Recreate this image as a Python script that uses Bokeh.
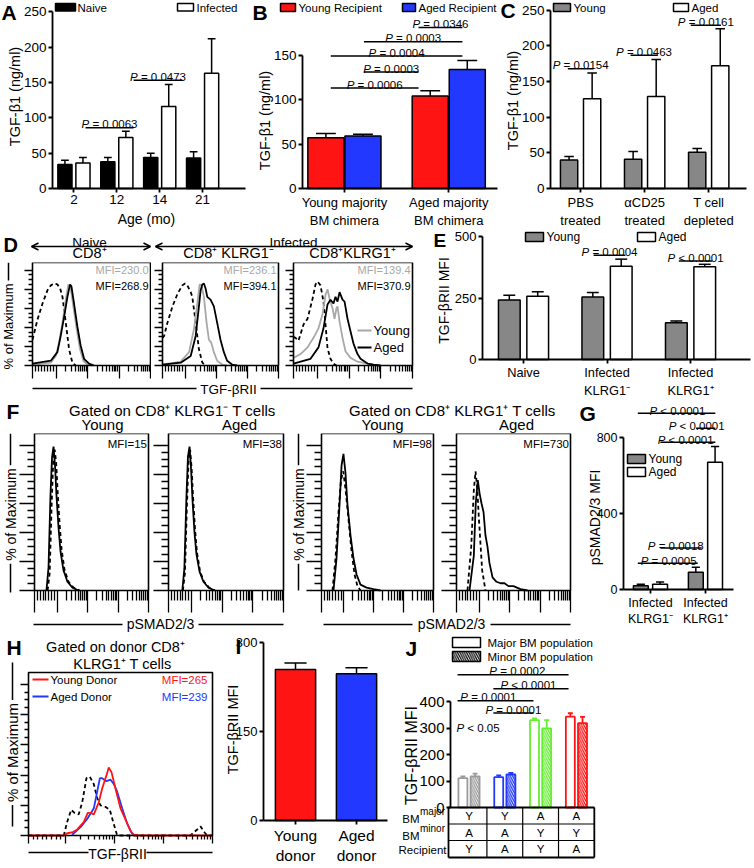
import math
from bokeh.plotting import figure
from bokeh.layouts import row, column
from bokeh.models import Range1d, FixedTicker, Label, Arrow, OpenHead, BoxAnnotation
from bokeh.embed import file_html
from bokeh.resources import INLINE

S = 1.0
FONT = "Liberation Sans"
GREY = "#878787"
LGREY = "#a8a8a8"
RED = "#ff1414"
BLUE = "#2238ff"

# ------------------------------------------------------------------ data
A_ages = ["2", "12", "14", "21"]
A_naive = [34, 38, 44, 43]
A_naive_err = [6, 6, 6, 9]
A_infected = [36, 72, 116, 163]
A_infected_err = [8, 9, 31, 49]
A_pvals = [(0.77, 1.89, 86, "= 0.0063"), (1.89, 3.03, 153, "= 0.0473")]

B_groups = ["Young majority\nBM chimera", "Aged majority\nBM chimera"]
B_young_recipient = [57, 104]
B_young_recipient_err = [5, 6]
B_aged_recipient = [59, 134]
B_aged_recipient_err = [2, 10]
B_pvals = [(0.29, 1.19, 113, "= 0.0006"), (0.63, 1.19, 131, "= 0.0003"),
           (0.29, 1.64, 149, "= 0.0004"), (0.63, 1.64, 165, "= 0.0003"),
           (1.19, 1.64, 181, "= 0.0346")]

C_groups = ["PBS\ntreated", "\u03b1CD25\ntreated", "T cell\ndepleted"]
C_young = [40, 41, 51]
C_young_err = [5, 11, 5]
C_aged = [126, 129, 172]
C_aged_err = [36, 52, 52]
C_pvals = [(0.30, 0.70, 168, "= 0.0154"), (1.28, 1.70, 187, "= 0.0463"),
           (2.22, 2.69, 229, "= 0.0161")]

D_mfi_young = ["MFI=230.0", "MFI=236.1", "MFI=139.4"]
D_mfi_aged = ["MFI=268.9", "MFI=394.1", "MFI=370.9"]
D1_ctrl_x = [0, 1.4, 4.2, 8.5, 12.7, 15.5, 18.3, 21.1, 23.4, 25.4, 28.2, 31.0, 33.8, 36.6]
D1_ctrl_y = [27, 34, 48, 65, 79, 84, 86, 85, 81, 72, 45, 17, 3, 0]
D1_young_x = [0, 15.5, 19.7, 22.5, 25.4, 28.2, 30.4, 32.4, 34.6, 37.5, 40.3, 43.1, 46.5, 50.7]
D1_young_y = [1, 3, 10, 24, 45, 69, 85, 81, 62, 38, 17, 5, 1, 0]
D1_aged_x = [0, 15.5, 21.1, 23.9, 26.8, 29.6, 31.8, 33.0, 35.2, 38.0, 40.8, 43.7, 47.9, 52.1]
D1_aged_y = [2, 5, 14, 31, 51, 72, 85, 83, 65, 41, 21, 7, 2, 0]
D2_ctrl_x = [0, 1.4, 4.3, 8.6, 12.9, 17.1, 19.4, 21.4, 24.3, 25.7, 28.6, 31.4, 34.3, 37.1]
D2_ctrl_y = [29, 31, 45, 62, 75, 84, 86, 84, 77, 72, 45, 17, 3, 0]
D2_young_x = [0, 15.7, 22.9, 27.1, 30.0, 32.0, 33.7, 35.7, 38.0, 40.0, 42.0, 44.3, 47.1, 51.4, 55.7]
D2_young_y = [1, 4, 14, 38, 65, 85, 84, 72, 45, 27, 24, 14, 5, 1, 0]
D2_aged_x = [0, 15.7, 24.3, 28.6, 31.4, 32.9, 34.3, 35.7, 37.1, 38.6, 41.4, 44.3, 47.1, 50.0,
             52.9, 55.7, 60.0, 64.3]
D2_aged_y = [1, 3, 10, 31, 62, 79, 85, 86, 81, 72, 69, 62, 45, 27, 14, 5, 1, 0]
D3_ctrl_x = [0, 1.7, 4.2, 8.4, 11.8, 16.0, 18.5, 20.2, 22.7, 25.2, 26.9, 28.6, 31.1, 33.6, 36.0]
D3_ctrl_y = [30, 29, 26, 43, 49, 70, 85, 88, 84, 67, 43, 18, 7, 2, 0]
D3_young_x = [0, 5.9, 11.8, 16.8, 21.0, 24.4, 26.9, 28.6, 30.3, 32.8, 34.5, 36.1, 37.0, 38.7,
              41.2, 43.7, 47.9, 53.8, 62.2, 67.2]
D3_young_y = [8, 12, 19, 29, 39, 54, 74, 80, 70, 60, 49, 60, 62, 46, 29, 15, 8, 4, 2, 1]
D3_aged_x = [0, 14.3, 21.0, 25.2, 28.6, 31.1, 33.6, 35.3, 37.0, 38.7, 41.2, 42.9, 45.4, 47.9,
             50.4, 53.8, 56.3, 62.2, 67.2, 73.1]
D3_aged_y = [2, 7, 19, 39, 64, 69, 65, 72, 67, 77, 69, 67, 49, 36, 23, 12, 7, 2, 1, 0]

E_groups = ["Naive", "Infected\nKLRG1\u207b", "Infected\nKLRG1\u207a"]
E_young = [242, 255, 150]
E_young_err = [20, 18, 7]
E_aged = [258, 380, 378]
E_aged_err = [18, 29, 10]
E_pvals = [(1.34, 1.72, 425, "= 0.0004"), (2.36, 2.76, 401, "< 0.0001")]

F_mfi = ["MFI=15", "MFI=38", "MFI=98", "MFI=730"]
F1_ctrl_x = [11.5, 13.3, 15.0, 16.4, 17.7, 19.0, 20.3, 22.1, 23.8, 26.4, 29.9, 34.3, 39.6]
F1_ctrl_y = [0, 12, 58, 88, 97, 88, 68, 45, 28, 14, 6, 2, 0]
F1_stain_x = [10.5, 12.3, 14.0, 15.4, 16.7, 18.0, 19.3, 21.1, 22.8, 25.4, 28.9, 33.3, 38.6]
F1_stain_y = [0, 16, 65, 92, 99, 86, 65, 43, 27, 14, 6, 2, 0]
F2_ctrl_x = [12.5, 14.3, 16.0, 17.4, 18.8, 20.1, 21.4, 23.1, 24.8, 27.5, 30.9, 35.3, 40.5]
F2_ctrl_y = [0, 12, 58, 88, 97, 84, 64, 42, 26, 13, 6, 2, 0]
F2_stain_x = [12.0, 13.8, 15.5, 16.9, 18.3, 19.6, 20.9, 22.6, 24.3, 27.0, 30.4, 34.8, 40.0]
F2_stain_y = [0, 15, 62, 92, 99, 84, 62, 40, 25, 13, 6, 2, 0]
F3_ctrl_x = [9.8, 12.5, 15.2, 17.4, 19.4, 21.4, 24.1, 26.8, 29.5, 32.1, 34.8]
F3_ctrl_y = [0, 22, 54, 76, 82, 70, 49, 27, 11, 3, 0]
F3_stain_x = [10.7, 13.4, 16.1, 17.9, 19.6, 21.4, 23.2, 25.9, 28.6, 31.3, 34.8, 40.2, 46.4, 52.7]
F3_stain_y = [0, 22, 59, 86, 94, 81, 59, 38, 22, 11, 4, 2, 1, 0]
F4_ctrl_x = [9.6, 12.9, 15.2, 16.7, 18.2, 19.6, 22.5, 25.4]
F4_ctrl_y = [0, 30, 69, 82, 70, 50, 14, 0]
F4_stain_x = [11.4, 15.2, 16.9, 18.7, 20.2, 21.9, 23.7, 25.4, 27.2, 28.9, 31.6, 35.1, 38.6,
              42.1, 45.6, 50.0, 56.1, 62.3]
F4_stain_y = [0, 24, 60, 76, 67, 60, 54, 38, 30, 19, 9, 6, 5, 5, 3, 3, 1, 0]

G_groups = ["Infected\nKLRG1\u207b", "Infected\nKLRG1\u207a"]
G_young = [20, 91]
G_young_err = [8, 26]
G_aged = [28, 670]
G_aged_err = [12, 82]
G_pvals = [(0.27, 1.68, 928, "< 0.0001", 0.99), (1.33, 1.68, 849, "< 0.0001", 1.34),
           (0.68, 1.68, 775, "< 0.0001", 1.14), (0.68, 1.43, 219, "= 0.0018", 0.96),
           (0.27, 1.36, 138, "= 0.0005", 0.83)]

H_mfi = ["MFI=265", "MFI=239"]
H_ctrl_x = [0, 19.2, 21.0, 23.2, 25.0, 27.3, 29.2, 31.5, 33.3, 35.5, 37.3, 39.1, 41.8, 44.2,
            46.0, 48.2, 88.0, 91.7, 93.5, 95.7, 97.1, 100]
H_ctrl_y = [0, 0, 9, 17, 15, 14, 22, 38, 39, 34, 25, 20, 19, 17, 9, 0, 0, 4, 6, 2, 0, 0]
H_young_x = [0, 19.2, 21.0, 23.7, 26.5, 30.1, 32.2, 33.7, 35.5, 38.2, 40.0, 42.4, 43.6, 45.1,
             47.3, 50.0, 53.3, 55.4, 57.2, 60.9, 100]
H_young_y = [0, 0, 1.5, 2, 4, 9, 15, 15, 14, 22, 31, 40, 45, 42, 31, 18, 9, 3, 0.5, 0, 0]
H_aged_x = [23.7, 28.3, 31.9, 35.5, 38.8, 40.0, 42.4, 44.6, 46.4, 48.2, 50.9, 53.6, 56.4, 58.2]
H_aged_y = [0.5, 5.5, 11, 18, 38, 38, 36, 37, 34, 29, 18, 8, 1, 0]

I_groups = ["Young\ndonor", "Aged\ndonor"]
I_values = [254, 247]
I_err = [11, 10]

J_major = [111, 115, 331, 344]
J_major_err = [7, 7, 7, 13]
J_minor = [118, 125, 300, 320]
J_minor_err = [10, 6, 31, 23]
J_colors = ["#9a9a9a", "#2238ff", "#66ee33", "#ff1414"]
J_bm_major = ["Y", "Y", "A", "A"]
J_bm_minor = ["A", "A", "Y", "Y"]
J_recipient = ["Y", "A", "Y", "A"]
J_pvals = [(0.18, 3.28, 503, "= 0.0002", 1.85), (1.18, 3.28, 450, "< 0.0001", 2.16),
           (0.18, 2.30, 404, "= 0.0001", 1.04), (1.18, 2.30, 358, "= 0.0001", 1.74)]

HIST_BOX = (0, 100, 0, 108)
HY_MAJOR = [0, 20, 40, 60, 80, 100]
HY_MINOR = [v for v in range(5, 100, 5) if v % 20]


def decade_ticks():
    major = [0, 20]
    minor = [2.5, 5, 7.5, 10, 12.5, 15, 17.5]
    w = 80 / 3
    for d in range(3):
        base = 20 + d * w
        for k in range(2, 10):
            minor.append(base + w * math.log10(k))
        major.append(base + w)
    return major, minor


HX_MAJOR, HX_MINOR = decade_ticks()

# ------------------------------------------------------------------ helpers
CW = {" ": .278, ".": .278, "=": .584, "<": .584, "P": .667, "%": .889, "o": .556, "f": .278,
      "M": .833, "a": .556, "x": .5, "i": .222, "m": .833, "u": .556}


def s(v):
    return int(round(v * S))


def fpx(v):
    return "%.1fpx" % (v * S)


def twidth(t, size):
    return sum(CW.get(c, .556) for c in t) * size


class Pan:
    """A figure whose frame fills its whole box; (plot, xr, yr) place the data area."""

    def __init__(self, box, plot=None, xr=None, yr=None, axes=True):
        x0, y0, x1, y1 = box
        if plot is None:
            plot = box
        fx0, fy0, fx1, fy1 = plot
        if xr is None:
            xr = (fx0, fx1)
        if yr is None:
            yr = (fy1, fy0)
        self.fx0, self.fy0, self.fx1, self.fy1 = plot
        self.xr, self.yr = xr, yr
        kw = dict(width=s(x1) - s(x0), height=s(y1) - s(y0),
                  x_range=Range1d(self.X(x0), self.X(x1)),
                  y_range=Range1d(self.Y(y1), self.Y(y0)),
                  min_border_left=0, min_border_right=0,
                  min_border_top=0, min_border_bottom=0,
                  output_backend="svg", toolbar_location=None, title=None)
        if not axes:
            kw.update(x_axis_type=None, y_axis_type=None)
        p = figure(**kw)
        p.outline_line_color = None
        p.background_fill_color = "white"
        p.border_fill_color = "white"
        if axes:
            p.grid.visible = False
        self.p = p

    def X(self, px):
        a, b = self.xr
        return a + (px - self.fx0) / (self.fx1 - self.fx0) * (b - a)

    def Y(self, py):
        a, b = self.yr
        return a + (self.fy1 - py) / (self.fy1 - self.fy0) * (b - a)

    def txt(self, px, py, t, size, align="center", color="black", style="normal",
            angle=0, base="middle"):
        self.p.add_layout(Label(x=self.X(px), y=self.Y(py), text=t, text_font=FONT,
                                text_font_size=fpx(size), text_align=align,
                                text_baseline=base, text_color=color,
                                text_font_style=style, angle=angle))

    def ylab(self, px, py, t, size=14.5):
        self.txt(px, py, t, size, angle=math.pi / 2)

    def lnd(self, x0, y0, x1, y1, w=1.5, color="black", heads=False):
        kw = dict(x_start=x0, y_start=y0, x_end=x1, y_end=y1, line_width=w * S,
                  line_color=color, start=None, end=None)
        if heads:
            kw["start"] = OpenHead(size=7, line_width=1.5 * S)
            kw["end"] = OpenHead(size=7, line_width=1.5 * S)
        self.p.add_layout(Arrow(**kw))

    def ln(self, px0, py0, px1, py1, w=1.5, color="black", heads=False):
        self.lnd(self.X(px0), self.Y(py0), self.X(px1), self.Y(py1), w, color, heads)

    def box(self, px0, py0, px1, py1, fill, line="black", hatch=None):
        kw = dict(left=self.X(px0), right=self.X(px1), top=self.Y(py0), bottom=self.Y(py1),
                  fill_color=fill, fill_alpha=1, line_color=line, line_width=1.5 * S,
                  line_alpha=1)
        if hatch:
            kw.update(hatch_pattern=hatch, hatch_color=line, hatch_scale=4.5,
                      hatch_weight=1.2)
        self.p.add_layout(BoxAnnotation(**kw))

    def letter(self, px, py, t, size=21):
        self.txt(px, py, t, size, align="left", style="bold")

    def maxlab(self, x, y0, y1, yc, size=14):
        t = "% of Maximum"
        half = twidth(t, size) / 2 + 3
        self.txt(x, yc, t, size, angle=math.pi / 2)
        if yc - half > y0:
            self.ln(x, y0, x, yc - half)
        if yc + half < y1:
            self.ln(x, yc + half, x, y1)


def ptext(p, x, y, rest, size=11.5, yoff=3.5, align="center"):
    wP = .667 * size * S
    wsp = .278 * size * S
    wR = twidth(rest, size) * S
    left = -(wP + wsp + wR) / 2 if align == "center" else 0
    common = dict(x=x, y=y, y_offset=yoff, text_align="left", text_baseline="alphabetic",
                  text_font=FONT, text_font_size=fpx(size), text_color="black")
    p.add_layout(Label(text="P", x_offset=left, text_font_style="italic", **common))
    p.add_layout(Label(text=rest, x_offset=left + wP + wsp, text_font_style="normal", **common))


def pvals(pan, items, size=11.5, yoff=3.5):
    p = pan.p
    p.segment(x0=[it[0] for it in items], y0=[it[2] for it in items],
              x1=[it[1] for it in items], y1=[it[2] for it in items],
              line_color="black", line_width=1.5 * S)
    for it in items:
        xc = it[4] if len(it) > 4 else (it[0] + it[1]) / 2
        ptext(p, xc, it[2], it[3], size, yoff)


def bars(p, xs, vals, errs, width, fill, line="black", hatch=None, lw=1.5):
    tops = [v + e for v, e in zip(vals, errs)]
    capw = width * 0.55
    p.segment(x0=xs, y0=vals, x1=xs, y1=tops, line_color=line, line_width=lw * S)
    p.segment(x0=[x - capw / 2 for x in xs], y0=tops, x1=[x + capw / 2 for x in xs], y1=tops,
              line_color=line, line_width=lw * S)
    kw = dict(x=xs, top=vals, width=width, bottom=0, fill_color=fill, line_color=line,
              line_width=lw * S)
    if hatch:
        kw.update(hatch_pattern=hatch, hatch_color=line, hatch_scale=4.5, hatch_weight=1.3)
    p.vbar(**kw)


def bar_axes(pan, yticks, ybounds, xticks, xlabels, tick=13.5, xtick=13,
             xticks_on=True, xbounds=None, xstand=2):
    p = pan.p
    xa, ya = p.xaxis[0], p.yaxis[0]
    ya.fixed_location = pan.xr[0]
    xa.fixed_location = pan.yr[0]
    ya.ticker = FixedTicker(ticks=yticks, minor_ticks=[])
    ya.bounds = ybounds
    xa.bounds = xbounds if xbounds is not None else pan.xr
    xa.ticker = FixedTicker(ticks=list(xticks) if xticks_on else [], minor_ticks=[])
    if xticks_on:
        xa.major_label_overrides = {float(x): l for x, l in zip(xticks, xlabels)}
    for ax in (xa, ya):
        ax.axis_line_color = "black"
        ax.axis_line_width = 1.8 * S
        ax.major_tick_line_color = "black"
        ax.major_tick_line_width = 1.8 * S
        ax.major_tick_in = 0
        ax.major_tick_out = 4
        ax.minor_tick_line_color = None
        ax.major_label_text_font = FONT
        ax.major_label_text_color = "black"
        ax.major_label_standoff = 2
    xa.major_label_standoff = xstand
    ya.major_label_text_font_size = fpx(tick)
    xa.major_label_text_font_size = fpx(xtick)


def hist_axes(pan, xt, yt, lw=1.3):
    p = pan.p
    l, r, b, t = HIST_BOX
    p.add_layout(BoxAnnotation(left=l, right=r, bottom=b, top=t, fill_color=None,
                               fill_alpha=0, line_color="black", line_alpha=1,
                               line_width=1.6 * S))
    xa, ya = p.xaxis[0], p.yaxis[0]
    xa.fixed_location = b
    ya.fixed_location = l
    xa.ticker = FixedTicker(ticks=HX_MAJOR, minor_ticks=HX_MINOR)
    ya.ticker = FixedTicker(ticks=HY_MAJOR, minor_ticks=HY_MINOR)
    for ax in (xa, ya):
        ax.axis_line_color = None
        ax.major_label_text_color = None
        ax.major_label_standoff = 0
        ax.major_tick_in = 0
        ax.minor_tick_in = 0
        ax.major_tick_line_color = "black"
        ax.minor_tick_line_color = "black"
        ax.major_tick_line_width = lw * S
        ax.minor_tick_line_width = lw * S
    xa.major_tick_out = s(xt[0])
    xa.minor_tick_out = s(xt[1])
    ya.major_tick_out = s(yt[0])
    ya.minor_tick_out = s(yt[1])


def curve(pan, xs, ys, color="black", dash="solid", w=1.8):
    pan.p.line(xs, ys, line_color=color, line_width=w * S, line_dash=dash)


DASH = "4 3"
WR = 752   # right edge of the whole layout
R1 = 229   # bottom of first row
R2 = 397   # bottom of second row
R3 = 632   # bottom of third row
R4 = 866   # bottom of last row

# ------------------------------------------------------------------ A
A = Pan((0, 0, 250, R1), (52, 0, 245, 188), (0, 4.5), (0, 266))
A_x = [0.5, 1.5, 2.5, 3.5]
bars(A.p, [x - 0.21 for x in A_x], A_naive, A_naive_err, 0.33, "black")
bars(A.p, [x + 0.21 for x in A_x], A_infected, A_infected_err, 0.33, "white")
bar_axes(A, [0, 50, 100, 150, 200, 250], (0, 250), A_x, A_ages, tick=13.5, xtick=13.5)
A.ylab(14, 96, "TGF-\u03b21 (ng/ml)")
pvals(A, A_pvals)
A.letter(1, 12, "A")
A.box(55, 3, 75, 10.5, "black")
A.txt(77, 7, "Naive", 11.5, align="left")
A.box(177, 3, 193, 10.5, "white")
A.txt(196, 7, "Infected", 11.5, align="left")
A.txt(146, 218, "Age (mo)", 14)

# ------------------------------------------------------------------ B
B = Pan((250, 0, 500, R1), (302, 0, 497, 188), (0, 2), (0, 211.5))
B_x = [0.43, 1.5]
bars(B.p, [x - 0.19 for x in B_x], B_young_recipient, B_young_recipient_err, 0.37, RED)
bars(B.p, [x + 0.19 for x in B_x], B_aged_recipient, B_aged_recipient_err, 0.37, BLUE)
bar_axes(B, [0, 50, 100, 150], (0, 150), B_x, B_groups)
B.ylab(264, 120, "TGF-\u03b21 (ng/ml)")
pvals(B, B_pvals)
B.letter(252, 12, "B")
B.box(280, 3, 295, 11, RED)
B.txt(298, 7, "Young Recipient", 11.5, align="left")
B.box(402, 3, 415, 11, BLUE)
B.txt(418, 7, "Aged Recipient", 11.5, align="left")

# ------------------------------------------------------------------ C
C = Pan((500, 0, WR, R1), (550, 0, 746, 188), (0.03, 3.09), (0, 263.6))
C_x = [0.5, 1.5, 2.5]
bars(C.p, [x - 0.18 for x in C_x], C_young, C_young_err, 0.27, GREY)
bars(C.p, [x + 0.18 for x in C_x], C_aged, C_aged_err, 0.27, "white")
bar_axes(C, [0, 50, 100, 150, 200, 250], (0, 250), C_x, C_groups)
C.ylab(512, 100, "TGF-\u03b21 (ng/ml)")
pvals(C, C_pvals)
C.letter(500, 10, "C")
C.box(553, 3, 570, 11, GREY)
C.txt(573, 7, "Young", 11.5, align="left")
C.box(673, 3, 688, 11, "white")
C.txt(691, 7, "Aged", 11.5, align="left")

# ------------------------------------------------------------------ D
Dh = Pan((0, R1, 420, 262), axes=False)
Dh.letter(3, 244, "D", 20)
Dh.txt(89, 242, "Naive", 13.5, base="alphabetic")
Dh.ln(31, 246, 150, 246, heads=True)
Dh.txt(293, 242, "Infected", 13.5, base="alphabetic")
Dh.ln(155, 246, 412, 246, heads=True)
Dh.txt(89, 252.5, "CD8\u207a", 14.5)
Dh.txt(228, 252.5, "CD8\u207a KLRG1\u207b", 14.5)
Dh.txt(352, 252.5, "CD8\u207aKLRG1\u207a", 14.5)

D1 = Pan((0, 262, 151, 380), (32, 262, 150, 365), (0, 100), (0, 108))
D2 = Pan((151, 262, 281, 380), (162, 262, 278, 365), (0, 100), (0, 108))
D3 = Pan((281, 262, 420, 380), (293, 262, 412, 365), (0, 100), (0, 108))
for pn in (D1, D2, D3):
    hist_axes(pn, (13, 6), (8, 4))
curve(D1, D1_ctrl_x, D1_ctrl_y, dash=DASH)
curve(D1, D1_young_x, D1_young_y, LGREY)
curve(D1, D1_aged_x, D1_aged_y)
curve(D2, D2_ctrl_x, D2_ctrl_y, dash=DASH)
curve(D2, D2_young_x, D2_young_y, LGREY)
curve(D2, D2_aged_x, D2_aged_y)
curve(D3, D3_ctrl_x, D3_ctrl_y, dash=DASH)
curve(D3, D3_young_x, D3_young_y, LGREY)
curve(D3, D3_aged_x, D3_aged_y)
for pn, ty, ta in zip((D1, D2, D3), D_mfi_young, D_mfi_aged):
    pn.txt(pn.fx1 - 2, 269, ty, 11, align="right", color=LGREY)
    pn.txt(pn.fx1 - 2, 285, ta, 11, align="right")
D1.maxlab(8, 262, 365, 326, 13)
D3.ln(357, 330, 371, 330, 2, LGREY)
D3.txt(373, 330, "Young", 13, align="left")
D3.ln(357, 347, 371, 347, 2)
D3.txt(373, 347, "Aged", 13, align="left")

Df = Pan((0, 380, 420, R2), axes=False)
Df.txt(228, 388.5, "TGF-\u03b2RII", 13.5)
Df.ln(32, 388, 196, 388)
Df.ln(260, 388, 412, 388)

# ------------------------------------------------------------------ E
E = Pan((420, R1, WR, R2), (482, 227, 750, 359), (0.009, 3.218), (0, 538))
E_x = [0.5, 1.5, 2.5]
bars(E.p, [x - 0.17 for x in E_x], E_young, E_young_err, 0.26, GREY)
bars(E.p, [x + 0.17 for x in E_x], E_aged, E_aged_err, 0.26, "white")
bar_axes(E, [0, 250, 500], (0, 500), E_x, E_groups, tick=13, xtick=12.8, xstand=1)
E.ylab(443, 300, "TGF-\u03b2RII MFI", 14)
pvals(E, E_pvals)
E.letter(433, 240, "E", 19)
E.box(525, 232, 543, 241, GREY)
E.txt(546, 236.5, "Young", 12, align="left")
E.box(637, 232, 655, 241, "white")
E.txt(658, 236.5, "Aged", 12, align="left")

# ------------------------------------------------------------------ F
Fh = Pan((0, R2, 578, 433), axes=False)
Fh.letter(6, 411, "F")
Fh.txt(172, 410, "Gated on CD8\u207a KLRG1\u207b T cells", 15)
Fh.txt(102, 424, "Young", 15)
Fh.txt(239, 424, "Aged", 15)
Fh.txt(452, 410, "Gated on CD8\u207a KLRG1\u207a T cells", 15)
Fh.txt(382, 424, "Young", 15)
Fh.txt(516, 424, "Aged", 15)

F1 = Pan((0, 433, 152, 613), (34, 433, 148, 590), (0, 100), (0, 108))
F2 = Pan((152, 433, 290, 613), (168, 433, 283, 590), (0, 100), (0, 108))
F3 = Pan((290, 433, 440, 613), (321, 433, 433, 590), (0, 100), (0, 108))
F4 = Pan((440, 433, 578, 613), (456, 433, 570, 590), (0, 100), (0, 108))
for pn in (F1, F2, F3, F4):
    hist_axes(pn, (22, 10), (15, 7))
curve(F1, F1_ctrl_x, F1_ctrl_y, dash=DASH)
curve(F1, F1_stain_x, F1_stain_y)
curve(F2, F2_ctrl_x, F2_ctrl_y, dash=DASH)
curve(F2, F2_stain_x, F2_stain_y)
curve(F3, F3_ctrl_x, F3_ctrl_y, dash=DASH)
curve(F3, F3_stain_x, F3_stain_y)
curve(F4, F4_ctrl_x, F4_ctrl_y, dash=DASH)
curve(F4, F4_stain_x, F4_stain_y)
for pn, t in zip((F1, F2, F3, F4), F_mfi):
    pn.txt(pn.fx1 - 1.5, 443, t, 11.5, align="right")
F1.maxlab(10, 433, 592, 514, 14)
F3.maxlab(298, 433, 590, 514, 14)

Ff = Pan((0, 613, 578, R3), axes=False)
Ff.txt(160, 623.5, "pSMAD2/3", 14)
Ff.ln(33, 624, 122, 624)
Ff.ln(198, 624, 283, 624)
Ff.txt(451, 623.5, "pSMAD2/3", 14)
Ff.ln(323, 624, 412, 624)
Ff.ln(490, 624, 570, 624)

# ------------------------------------------------------------------ G
G = Pan((578, R2, WR, R3), (623, 398, 733, 589), (0.01, 2.01), (0, 1005))
G_x = [0.5, 1.5]
bars(G.p, [x - 0.175 for x in G_x], G_young, G_young_err, 0.27, GREY)
bars(G.p, [x + 0.175 for x in G_x], G_aged, G_aged_err, 0.27, "white")
bar_axes(G, [0, 400, 800], (0, 800), G_x, G_groups, tick=12.5, xtick=12.5)
pvals(G, G_pvals, yoff=2)
G.letter(579, 413, "G")
G.ylab(594, 517, "pSMAD2/3 MFI", 14)
G.box(627, 454, 645, 463, GREY)
G.txt(648, 458.5, "Young", 12, align="left")
G.box(627, 467, 645, 476, "white")
G.txt(648, 471.5, "Aged", 12, align="left")

# ------------------------------------------------------------------ H
H = Pan((0, R3, 214, R4), (28, 672, 212, 835), (0, 100), (0, 108))
hist_axes(H, (8, 4), (8, 4))
curve(H, H_ctrl_x, H_ctrl_y, dash=DASH)
curve(H, H_aged_x, H_aged_y, BLUE)
curve(H, H_young_x, H_young_y, RED)
H.letter(6, 647, "H")
H.txt(115, 646, "Gated on donor CD8\u207a", 14.5)
H.txt(122, 663, "KLRG1\u207a T cells", 14.5)
H.maxlab(12, 662, 826, 752, 15)
H.ln(32, 679, 48, 679, 2, RED)
H.txt(50, 679, "Young Donor", 11.5, align="left")
H.ln(32, 696, 48, 696, 2, BLUE)
H.txt(50, 696, "Aged Donor", 11.5, align="left")
H.txt(207, 679, H_mfi[0], 11.5, align="right", color=RED)
H.txt(207, 696, H_mfi[1], 11.5, align="right", color=BLUE)
H.txt(117, 853, "TGF-\u03b2RII", 14)
H.ln(28, 852, 88, 852)
H.ln(146, 852, 212, 852)

# ------------------------------------------------------------------ I
I = Pan((214, R3, 396, R4), (263, 632, 387, 820), (-0.025, 2.008), (0, 316.5))
I_x = [0.5, 1.5]
bars(I.p, I_x, I_values, I_err, 0.66, [RED, BLUE])
bar_axes(I, [0, 150, 300], (0, 300), I_x, I_groups, tick=13, xtick=15.5)
I.ylab(232, 729, "TGF-\u03b2RII MFI", 14.5)
I.letter(235, 646, "I")

# ------------------------------------------------------------------ J
J = Pan((396, R3, WR, R4), (450, 632, 593, 807), (-0.017, 3.977), (0, 663))
J_x = [0.5, 1.5, 2.5, 3.5]
t_left = J.X(448)
t_right = J_x[-1] + 0.5
bars(J.p, [x - 0.17 for x in J_x], J_major, J_major_err, 0.25, "white", line=J_colors, lw=1.8)
bars(J.p, [x + 0.17 for x in J_x], J_minor, J_minor_err, 0.25, "white", line=J_colors,
     hatch="\\", lw=1.8)
bar_axes(J, [0, 100, 200, 300, 400], (0, 400), J_x, ["", "", "", ""], tick=15,
         xticks_on=False, xbounds=(t_left, t_right))
J.ylab(411, 755, "TGF-\u03b2RII MFI", 16)
pvals(J, J_pvals)
ptext(J.p, J.X(456), J.Y(727), "< 0.05", 11.5, yoff=0, align="left")
J.letter(405, 648, "J")
J.box(452, 637, 480, 647, "white")
J.txt(487, 642, "Major BM population", 11.5, align="left")
J.box(452, 651, 480, 661, "white", hatch="\\")
J.txt(487, 656, "Minor BM population", 11.5, align="left")
# table under the axis
edges = [t_left] + [(J_x[i] + J_x[i + 1]) / 2 for i in range(len(J_x) - 1)] + [t_right]
row_y = [J.Y(807), J.Y(823.5), J.Y(840), J.Y(857)]
for k, yy in enumerate(row_y[1:]):
    J.lnd(t_left, yy, t_right, yy, 1.8 if k == 2 else 1.2)
for k, xx in enumerate(edges):
    J.lnd(xx, row_y[0], xx, row_y[-1], 1.8 if k in (0, len(edges) - 1) else 1.2)
for vals, yc in ((J_bm_major, 815.5), (J_bm_minor, 832), (J_recipient, 848.5)):
    for xx, v in zip(J_x, vals):
        J.p.add_layout(Label(x=xx, y=J.Y(yc), text=v, text_font=FONT, text_font_size=fpx(11.5),
                             text_align="center", text_baseline="middle", text_color="black"))
J.txt(419, 818, "BM", 11.5, align="right")
J.txt(419.5, 811, "major", 10, align="left")
J.txt(419, 835, "BM", 11.5, align="right")
J.txt(419.5, 828, "minor", 10, align="left")
J.txt(446, 849, "Recipient", 11.5, align="right")

# ------------------------------------------------------------------ layout
row1 = row(A.p, B.p, C.p)
Dblock = column(Dh.p, row(D1.p, D2.p, D3.p), Df.p)
row2 = row(Dblock, E.p)
Fblock = column(Fh.p, row(F1.p, F2.p, F3.p, F4.p), Ff.p)
row3 = row(Fblock, G.p)
row4 = row(H.p, I.p, J.p)
lay = column(row1, row2, row3, row4)

open("out.html", "w").write(file_html(lay, INLINE))
